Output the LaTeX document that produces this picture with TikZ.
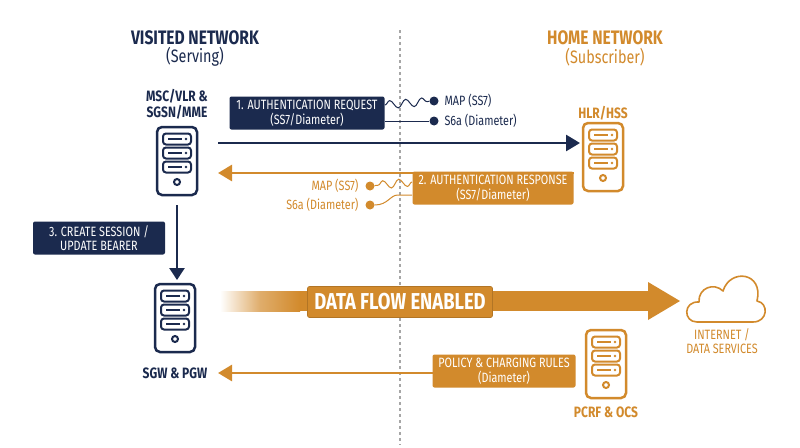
\documentclass[tikz,border=0pt]{standalone}
\usepackage{fontspec}
\setmainfont[FakeStretch=0.8]{Fira Sans}
\usetikzlibrary{arrows.meta,decorations.pathmorphing}
\definecolor{navy}{HTML}{1B2A4E}
\definecolor{orng}{HTML}{D28A2C}
\begin{document}
\begin{tikzpicture}[x=1pt,y=-1pt,
  srv/.pic={
    \draw[line width=2.5pt,rounded corners=5pt] (-20,-34) rectangle (20,34);
    \foreach \yy in {-22,-8,6}{
      \draw[line width=2pt,rounded corners=3pt] (-14,\yy-5.5) rectangle (14,\yy+5.5);
      \draw[line width=1.5pt] (-9,\yy) -- (5,\yy);
      \fill (9,\yy) circle (1.4);}
    \draw[line width=2pt] (0,21) circle (3);
  },
  lbl/.style={font=\bfseries\fontsize{15}{15.5}\selectfont,align=center},
  box/.style={rounded corners=2pt,text=white,align=center,font=\fontsize{13.5}{14.5}\selectfont,inner sep=3pt},
  arr/.style={line width=2.6pt,-{Triangle[length=14pt,width=16pt]}},
  dotl/.style={line width=1pt},
  sm/.style={font=\fontsize{13.5}{15}\selectfont}]
\useasboundingbox (0,0) rectangle (800,447);
\fill[white] (0,0) rectangle (800,447);
\draw[gray!70,dashed,line width=1.2pt] (400,30) -- (400,445);
\node[navy,font=\bfseries\fontsize{19.5}{20}\selectfont] (vn) at (195,38) {VISITED NETWORK};
\node[navy,font=\fontsize{18}{20}\selectfont] (vs) at (195,57) {(Serving)};
\node[orng,font=\bfseries\fontsize{19.5}{20}\selectfont] (hn) at (605,38) {HOME NETWORK};
\node[orng,font=\fontsize{18}{20}\selectfont] (hs) at (605,57) {(Subscriber)};
% servers
\pic[navy] at (177,161) {srv};
\node[lbl,navy] (mscl) at (177,104) {MSC/VLR \&\\SGSN/MME};
\pic[orng] at (603,157) {srv};
\node[lbl,orng] (hlrl) at (603,113) {HLR/HSS};
\pic[navy] at (175,318) {srv};
\node[lbl,navy] (sgwl) at (175,373) {SGW \& PGW};
\pic[orng] at (606,364) {srv};
\node[lbl,orng] (pcrfl) at (606,412) {PCRF \& OCS};
% request
\node[box,fill=navy,minimum width=155,minimum height=33] (req) at (307,113) {1. AUTHENTICATION REQUEST\\(SS7/Diameter)};
\coordinate (r1) at (385,105);
\coordinate (r2) at (385,121);
\node[circle,fill=navy,inner sep=0,minimum size=9] (d1) at (434,101) {};
\node[circle,fill=navy,inner sep=0,minimum size=9] (d2) at (434,121) {};
\draw[navy,dotl,decorate,decoration={snake,amplitude=4pt,segment length=16pt}] (r1) -- (d1);
\draw[navy,dotl] (r2) -- (d2);
\node[sm,navy,anchor=west] (m1) at (441,101) {MAP (SS7)};
\node[sm,navy,anchor=west] (m2) at (441,121) {S6a (Diameter)};
\coordinate (a1s) at (218,143); \coordinate (a1e) at (580,143);
\draw[navy,arr] (a1s) -- (a1e);
% response
\coordinate (a2s) at (574,173); \coordinate (a2e) at (218,173);
\draw[orng,arr] (a2s) -- (a2e);
\node[box,fill=orng,minimum width=161,minimum height=33] (resp) at (493,188) {2. AUTHENTICATION RESPONSE\\(SS7/Diameter)};
\node[circle,fill=orng,inner sep=0,minimum size=9] (d3) at (370,186) {};
\node[circle,fill=orng,inner sep=0,minimum size=9] (d4) at (370,205) {};
\coordinate (r3) at (412,182); \coordinate (r4) at (412,195);
\draw[orng,dotl,decorate,decoration={snake,amplitude=4pt,segment length=16pt}] (r3) -- (d3);
\draw[orng,dotl] (r4) -- (398,195) .. controls (390,195) and (388,205) .. (d4);
\node[sm,orng,anchor=east] (m3) at (362,186) {MAP (SS7)};
\node[sm,orng,anchor=east] (m4) at (362,205) {S6a (Diameter)};
% create session
\coordinate (v1) at (177,205); \coordinate (v2) at (177,280);
\draw[navy,line width=2.6pt,-{Triangle[length=12pt,width=15pt]}] (v1) -- (v2);
\node[box,fill=navy,minimum width=132,minimum height=33] (cs) at (99,238) {3. CREATE SESSION /\\UPDATE BEARER};
% data flow
\shade[left color=white,right color=orng,middle color=orng!70] (220,291) rectangle (300,311);
\fill[orng] (300,291) rectangle (652,311);
\coordinate (dfh) at (680,301);
\fill[orng] (648,282) -- (dfh) -- (648,320) -- cycle;
\node[box,fill=orng,draw=orng!85!black,line width=0.6pt,font=\bfseries\fontsize{23}{24}\selectfont,minimum width=185,minimum height=31,inner sep=2pt] (df) at (400,302) {DATA FLOW ENABLED};
\draw[orng,line width=1.6pt,line join=round] (697,322) .. controls (683,322) and (683,301) .. (699,302)
  .. controls (698,288) and (714,282) .. (723,291)
  .. controls (730,268) and (764,272) .. (757,301)
  .. controls (769,303) and (768,322) .. (753,322) -- cycle;
\node[orng,font=\fontsize{13.5}{14}\selectfont,align=center] (cl) at (722,341) {INTERNET /\\DATA SERVICES};
% policy
\coordinate (a3s) at (434,373); \coordinate (a3e) at (218,373);
\draw[orng,arr] (a3s) -- (a3e);
\node[box,fill=orng,minimum width=143,minimum height=33] (pol) at (504,371) {POLICY \& CHARGING RULES\\(Diameter)};
\end{tikzpicture}
\end{document}
